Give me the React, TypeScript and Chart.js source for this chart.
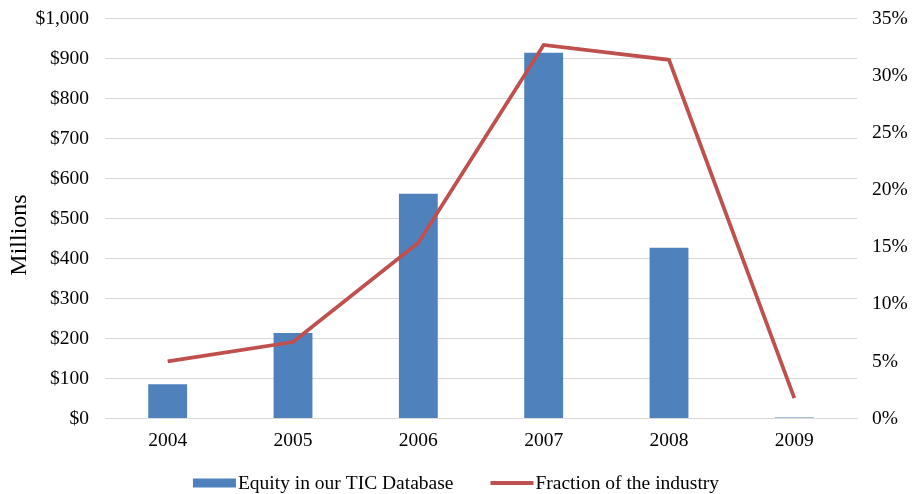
import React, { useEffect, useRef } from "react";
import { Chart, registerables } from "chart.js";

Chart.register(...registerables);

const years = ["2004", "2005", "2006", "2007", "2008", "2009"];
const equityMillions = [86, 214, 562, 915, 427, 3];
const fractionPct = [5.0, 6.7, 15.4, 32.7, 31.4, 1.8];
const leftAxisTitle = "Millions";

const FONT = "'Liberation Serif', 'Times New Roman', serif";
const FS = 19.5;
const SHIFT = 9;

const legendPlugin = {
  id: "customLegend",
  afterDraw(chart: any) {
    const ctx = chart.ctx as CanvasRenderingContext2D;
    const ds = chart.data.datasets;
    const bar = ds.find((d: any) => d.type === "bar");
    const line = ds.find((d: any) => d.type === "line");
    const items = [bar, line];
    ctx.save();
    // axis title
    ctx.save();
    ctx.font = `24px ${FONT}`;
    ctx.fillStyle = "#000";
    ctx.textAlign = "center";
    ctx.textBaseline = "middle";
    ctx.translate(20, 235 + SHIFT);
    ctx.rotate(-Math.PI / 2);
    ctx.fillText(leftAxisTitle, 0, 0);
    ctx.restore();

    ctx.font = `${FS}px ${FONT}`;
    ctx.textBaseline = "middle";
    ctx.textAlign = "left";
    const sw = 43, gap = 2, itemGap = 37;
    const widths = items.map((d: any) => ctx.measureText(d.label).width);
    const total = widths.reduce((a: number, b: number) => a + b, 0) + 2 * (sw + gap) + itemGap;
    let x = chart.width / 2 - total / 2;
    const y = 483 + SHIFT;
    items.forEach((d: any, i: number) => {
      if (d.type === "bar") {
        ctx.fillStyle = d.backgroundColor;
        ctx.fillRect(x, y - 4.5, sw, 9);
      } else {
        ctx.strokeStyle = d.borderColor;
        ctx.lineWidth = 4;
        ctx.beginPath();
        ctx.moveTo(x, y);
        ctx.lineTo(x + sw, y);
        ctx.stroke();
      }
      x += sw + gap;
      ctx.fillStyle = "#000";
      ctx.fillText(d.label, x, y + 1);
      x += widths[i] + itemGap;
    });
    ctx.restore();
  },
};

export default function App() {
  const ref = useRef<HTMLCanvasElement | null>(null);
  useEffect(() => {
    if (!ref.current) return;
    const chart = new Chart(ref.current, {
      type: "bar",
      data: {
        labels: years,
        datasets: [
          {
            type: "line",
            label: "Fraction of the industry",
            data: fractionPct,
            yAxisID: "y1",
            borderColor: "#c0504d",
            backgroundColor: "#c0504d",
            borderWidth: 3.75,
            pointRadius: 0,
            tension: 0,
            order: 0,
          } as any,
          {
            type: "bar",
            label: "Equity in our TIC Database",
            data: equityMillions,
            yAxisID: "y",
            backgroundColor: "#4f81bd",
            borderWidth: 0,
            categoryPercentage: 1,
            barPercentage: 0.31,
            order: 1,
          },
        ],
      },
      options: {
        animation: false,
        responsive: true,
        maintainAspectRatio: false,
        layout: { padding: { left: 4, right: 3, top: 0, bottom: 30 } },
        plugins: {
          tooltip: { enabled: false },
          legend: { display: false },
        },
        scales: {
          x: {
            grid: { display: false, drawTicks: false },
            border: { display: true, color: "#d9d9d9", width: 1 },
            ticks: { color: "#000", font: { family: FONT, size: FS }, padding: 11 },
          },
          y: {
            position: "left",
            min: 0,
            max: 1000,
            afterFit: (s: any) => { s.width = 101; },
            ticks: {
              stepSize: 100,
              color: "#000",
              font: { family: FONT, size: FS },
              padding: 16,
              callback: (v: any) => "$" + Number(v).toLocaleString("en-US"),
            },
            grid: { color: "#d9d9d9", drawTicks: false },
            border: { display: false },
          },
          y1: {
            position: "right",
            min: 0,
            max: 35,
            afterFit: (s: any) => { s.width = 52; },
            ticks: {
              stepSize: 5,
              color: "#000",
              font: { family: FONT, size: FS },
              padding: 15,
              callback: (v: any) => v + "%",
            },
            grid: { display: false, drawTicks: false },
            border: { display: false },
          },
        },
      },
      plugins: [legendPlugin],
    });
    return () => chart.destroy();
  }, []);
  return (
    <div style={{ position: "fixed", left: 0, top: -SHIFT, width: 912, height: 494 + SHIFT, background: "#fff" }}>
      <canvas ref={ref} />
    </div>
  );
}
